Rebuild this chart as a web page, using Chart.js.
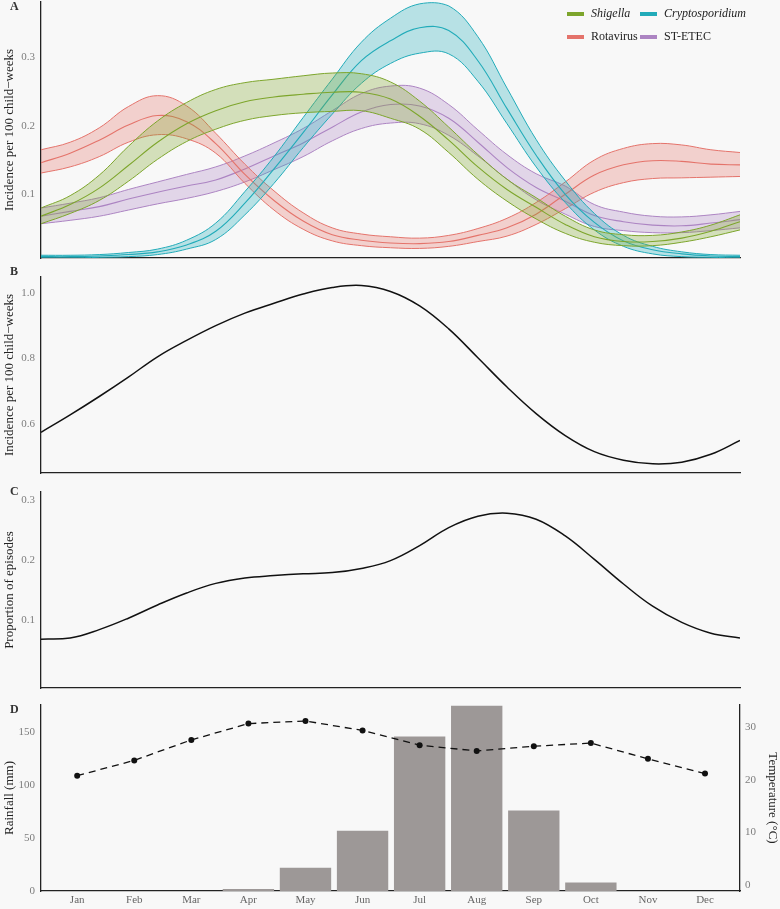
<!DOCTYPE html>
<html>
<head>
<meta charset="utf-8">
<title>Seasonality of diarrhoea</title>
<script src="https://cdn.jsdelivr.net/npm/chart.js@4.4.1/dist/chart.umd.min.js"></script>
<style>
  html, body { margin: 0; padding: 0; background: #f8f8f8; }
  #wrap { position: relative; width: 780px; height: 909px; }
  canvas { position: absolute; left: 0; }
</style>
</head>
<body>
<div id="wrap">
  <canvas id="chartA" width="780" height="265" style="top:0px"></canvas>
  <canvas id="chartB" width="780" height="213" style="top:265px"></canvas>
  <canvas id="chartC" width="780" height="215" style="top:478px"></canvas>
  <canvas id="chartD" width="780" height="216" style="top:693px"></canvas>
</div>
<script>
// month position along the year (0 = 1 Jan, 12 = 31 Dec), half-month steps
let monthPos = [0, 0.5, 1, 1.5, 2, 2.5, 3, 3.5, 4, 4.5, 5, 5.5, 6, 6.5, 7, 7.5, 8, 8.5, 9, 9.5, 10, 10.5, 11, 11.5, 12];

// panel A: incidence per 100 child-weeks (lower, estimate, upper)
let shigellaLow  = [.057, .072, .091, .119, .151, .177, .195, .208, .215, .219, .221, .222, .211, .195, .161, .122, .090, .064, .043, .030, .025, .025, .030, .038, .048];
let shigellaMid  = [.068, .085, .109, .142, .176, .203, .222, .235, .242, .246, .249, .249, .239, .214, .179, .140, .107, .081, .056, .038, .031, .031, .036, .046, .060];
let shigellaHigh = [.080, .098, .128, .170, .207, .234, .253, .263, .268, .273, .277, .276, .264, .236, .198, .158, .122, .095, .068, .048, .041, .040, .045, .055, .070];

let cryptoLow  = [.007, .007, .008, .009, .012, .020, .034, .070, .116, .168, .217, .262, .291, .306, .305, .265, .203, .140, .088, .048, .024, .013, .009, .008, .007];
let cryptoMid  = [.009, .009, .010, .012, .016, .026, .046, .087, .137, .190, .245, .295, .324, .343, .339, .295, .225, .157, .100, .059, .032, .019, .013, .010, .009];
let cryptoHigh = [.011, .011, .012, .015, .020, .033, .058, .104, .155, .212, .268, .322, .357, .378, .375, .330, .255, .180, .120, .072, .040, .024, .016, .012, .011];

let rotaLow  = [.131, .140, .155, .176, .187, .181, .160, .116, .077, .049, .032, .025, .022, .021, .024, .031, .039, .056, .079, .103, .117, .123, .124, .125, .126];
let rotaMid  = [.146, .160, .179, .201, .215, .206, .174, .129, .091, .061, .041, .033, .029, .028, .031, .040, .051, .071, .100, .128, .143, .149, .148, .144, .143];
let rotaHigh = [.165, .176, .197, .228, .244, .229, .189, .144, .105, .073, .051, .042, .038, .036, .040, .050, .065, .088, .118, .150, .167, .174, .172, .165, .161];

let etecLow  = [.057, .062, .068, .077, .086, .094, .104, .118, .136, .155, .178, .196, .204, .203, .186, .156, .122, .092, .071, .053, .047, .044, .044, .047, .051];
let etecMid  = [.068, .075, .082, .093, .103, .112, .121, .137, .156, .175, .198, .220, .231, .229, .211, .176, .139, .110, .090, .069, .060, .055, .054, .058, .063];
let etecHigh = [.080, .087, .095, .107, .118, .129, .140, .156, .175, .196, .222, .247, .258, .255, .231, .194, .158, .130, .112, .085, .074, .068, .067, .070, .075];

// panel B: all-cause incidence per 100 child-weeks
let allCause = [.575, .628, .684, .743, .805, .855, .900, .938, .968, .996, 1.016, 1.022, 1.004, .960, .890, .802, .713, .632, .565, .516, .490, .479, .484, .508, .550];

// panel C: proportion of episodes
let propEpisodes = [.068, .070, .084, .103, .125, .145, .161, .170, .174, .177, .179, .186, .199, .224, .254, .273, .278, .268, .240, .201, .160, .123, .096, .078, .070];

// panel D: climate
let months = ['Jan', 'Feb', 'Mar', 'Apr', 'May', 'Jun', 'Jul', 'Aug', 'Sep', 'Oct', 'Nov', 'Dec'];
let rainfall = [0, 0, 0, 2, 22, 57, 146, 175, 76, 8, 0, 0];
let temperature = [20.8, 23.7, 27.6, 30.7, 31.2, 29.4, 26.6, 25.5, 26.4, 27.0, 24.0, 21.2];

let incidenceTicks = [0.1, 0.2, 0.3];
let allCauseTicks = [0.6, 0.8, 1.0];
let propTicks = [0.1, 0.2, 0.3];
let rainTicks = [0, 50, 100, 150];
let tempTicks = [0, 10, 20, 30];

let shigellaColor = '#7da52c';
let cryptoColor = '#22abb9';
let rotaColor = '#e4736b';
let etecColor = '#ac84c2';

Chart.defaults.font.family = "'Liberation Serif', 'Times New Roman', serif";
Chart.defaults.color = '#222';

function fade(hex, a) {
  let n = parseInt(hex.slice(1), 16);
  return `rgba(${(n >> 16) & 255}, ${(n >> 8) & 255}, ${n & 255}, ${a})`;
}

function points(arr) {
  return arr.map((v, i) => ({ x: monthPos[i], y: v }));
}

function curve(label, arr, color, width, fill, bg) {
  return {
    label: label,
    data: points(arr),
    borderColor: color,
    borderWidth: width,
    backgroundColor: bg || 'transparent',
    fill: fill,
    pointRadius: 0,
    tension: 0.4
  };
}

function bandSets(name, color, low, mid, high) {
  return [
    curve(name + ' lower', low, color, 1, false),
    curve(name + ' upper', high, color, 1, '-1', fade(color, 0.3)),
    curve(name, mid, color, 1.1, false)
  ];
}

// keep the plot box exactly where it is; no extra room for end labels
function noPad(s) {
  s.paddingTop = 0;
  s.paddingBottom = 0;
  s.paddingLeft = 0;
  s.paddingRight = 0;
}

function leftAxis(min, max, ticks, title, digits) {
  return {
    type: 'linear',
    position: 'left',
    min: min,
    max: max,
    afterFit: s => { s.width = 41; noPad(s); },
    afterBuildTicks: s => { s.ticks = ticks.map(v => ({ value: v })); },
    grid: { display: false, drawTicks: false },
    border: { display: true, color: '#222', width: 1.3 },
    ticks: { padding: 6, color: '#7d7d7d', font: { size: 11 }, autoSkip: false, callback: v => v.toFixed(digits) },
    title: { display: true, text: title, color: '#222', font: { size: 13 }, padding: { top: 2, bottom: 0 } }
  };
}

function plainX() {
  return {
    type: 'linear',
    min: 0,
    max: 12,
    afterFit: s => { s.height = 0; noPad(s); },
    grid: { display: false, drawTicks: false },
    border: { display: true, color: '#222', width: 1.3 },
    ticks: { display: false }
  };
}

function letterPlugin(letter, y) {
  return {
    id: 'letter' + letter,
    afterDraw(chart) {
      let ctx = chart.ctx;
      ctx.save();
      ctx.font = "bold 12px 'Liberation Serif', serif";
      ctx.fillStyle = '#333';
      ctx.textBaseline = 'middle';
      ctx.textAlign = 'left';
      ctx.fillText(letter, 10, y);
      ctx.restore();
    }
  };
}

let legendPlugin = {
  id: 'bandLegend',
  afterDraw(chart) {
    let ctx = chart.ctx;
    let items = [
      { text: 'Shigella', color: shigellaColor, italic: true, col: 0, row: 0 },
      { text: 'Cryptosporidium', color: cryptoColor, italic: true, col: 1, row: 0 },
      { text: 'Rotavirus', color: rotaColor, italic: false, col: 0, row: 1 },
      { text: 'ST-ETEC', color: etecColor, italic: false, col: 1, row: 1 }
    ];
    ctx.save();
    ctx.textBaseline = 'middle';
    ctx.textAlign = 'left';
    items.forEach(it => {
      let x = it.col === 0 ? 567 : 640;
      let y = it.row === 0 ? 14 : 37;
      ctx.fillStyle = it.color;
      ctx.fillRect(x, y - 2, 17, 4);
      ctx.fillStyle = '#222';
      ctx.font = (it.italic ? 'italic ' : '') + "12px 'Liberation Serif', serif";
      ctx.fillText(it.text, x + 24, y);
    });
    ctx.restore();
  }
};

let baseOpts = {
  responsive: false,
  animation: false,
  devicePixelRatio: 1,
  plugins: { legend: { display: false }, tooltip: { enabled: false } }
};

// panel A
new Chart(document.getElementById('chartA'), {
  type: 'line',
  data: {
    datasets: [].concat(
      bandSets('Shigella', shigellaColor, shigellaLow, shigellaMid, shigellaHigh),
      bandSets('Cryptosporidium', cryptoColor, cryptoLow, cryptoMid, cryptoHigh),
      bandSets('Rotavirus', rotaColor, rotaLow, rotaMid, rotaHigh),
      bandSets('ST-ETEC', etecColor, etecLow, etecMid, etecHigh)
    )
  },
  options: Object.assign({}, baseOpts, {
    layout: { padding: { top: 2, right: 40, bottom: 7, left: 0 } },
    scales: {
      x: plainX(),
      y: leftAxis(0.007, 0.3807, incidenceTicks, 'Incidence per 100 child\u2212weeks', 1)
    }
  }),
  plugins: [letterPlugin('A', 7), legendPlugin]
});

// panel B
new Chart(document.getElementById('chartB'), {
  type: 'line',
  data: { datasets: [curve('All cause', allCause, '#111', 1.5, false)] },
  options: Object.assign({}, baseOpts, {
    layout: { padding: { top: 12, right: 40, bottom: 5, left: 0 } },
    scales: {
      x: plainX(),
      y: leftAxis(0.451, 1.048, allCauseTicks, 'Incidence per 100 child\u2212weeks', 1)
    }
  }),
  plugins: [letterPlugin('B', 7)]
});

// panel C
new Chart(document.getElementById('chartC'), {
  type: 'line',
  data: { datasets: [curve('Proportion', propEpisodes, '#111', 1.5, false)] },
  options: Object.assign({}, baseOpts, {
    layout: { padding: { top: 14, right: 40, bottom: 5, left: 0 } },
    scales: {
      x: plainX(),
      y: leftAxis(-0.0133, 0.3133, propTicks, 'Proportion of episodes', 1)
    }
  }),
  plugins: [letterPlugin('C', 14)]
});

// panel D
let rainAxis = leftAxis(0, 175.8, rainTicks, 'Rainfall (mm)', 0);
new Chart(document.getElementById('chartD'), {
  type: 'bar',
  data: {
    datasets: [{
      type: 'line',
      label: 'Temperature',
      data: temperature.map((v, i) => ({ x: i + 1, y: v })),
      yAxisID: 'y1',
      borderColor: '#111',
      borderWidth: 1.3,
      borderDash: [7, 5],
      pointRadius: 3,
      pointBackgroundColor: '#111',
      pointBorderWidth: 0,
      tension: 0,
      order: 0
    }, {
      type: 'bar',
      label: 'Rainfall',
      data: rainfall.map((v, i) => ({ x: i + 1, y: v })),
      yAxisID: 'y',
      backgroundColor: '#9d9897',
      borderWidth: 0,
      barPercentage: 0.9,
      categoryPercentage: 1,
      order: 1
    }]
  },
  options: Object.assign({}, baseOpts, {
    layout: { padding: { top: 12, right: 0, bottom: 0, left: 0 } },
    scales: {
      x: {
        type: 'linear',
        offset: false,
        min: 0.366,
        max: 12.613,
        afterFit: s => { s.height = 18; noPad(s); },
        afterBuildTicks: s => { s.ticks = months.map((m, i) => ({ value: i + 1 })); },
        grid: { display: false, drawTicks: false },
        border: { display: true, color: '#222', width: 1.3 },
        ticks: { padding: 3, color: '#666', font: { size: 11 }, autoSkip: false, maxRotation: 0,
                 callback: v => months[Math.round(v) - 1] }
      },
      y: rainAxis,
      y1: {
        type: 'linear',
        position: 'right',
        min: -1.14,
        max: 34.24,
        afterFit: s => { s.width = 40; noPad(s); },
        afterBuildTicks: s => { s.ticks = tempTicks.map(v => ({ value: v })); },
        grid: { display: false, drawTicks: false },
        border: { display: true, color: '#222', width: 1.3 },
        ticks: { padding: 5, color: '#7d7d7d', font: { size: 11 }, autoSkip: false, callback: v => v.toFixed(0) },
        title: { display: true, text: 'Temperature (\u00b0C)', color: '#222', font: { size: 13 }, padding: { top: 0, bottom: 0 } }
      }
    }
  }),
  plugins: [letterPlugin('D', 17)]
});
</script>
</body>
</html>
